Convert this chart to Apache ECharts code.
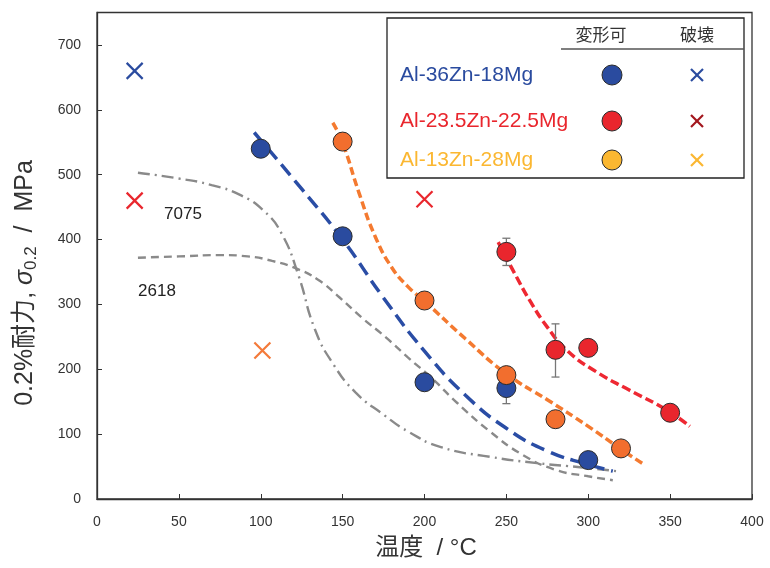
<!DOCTYPE html>
<html><head><meta charset="utf-8">
<script src="https://cdn.jsdelivr.net/npm/echarts@6/dist/echarts.min.js"></script>
<style>html,body{margin:0;padding:0;background:#fff}#c{width:770px;height:568px}</style>
</head><body><div id="c"></div>
<script>
// ---- data ----
const xTicks = [0, 50, 100, 150, 200, 250, 300, 350, 400];
const yTicks = [0, 100, 200, 300, 400, 500, 600, 700];
const legendNames = ['Al-36Zn-18Mg', 'Al-23.5Zn-22.5Mg', 'Al-13Zn-28Mg'];
const legendHeaders = ['変形可', '破壊'];
const xTitle = '温度  / °C';
const yTitle = '0.2%耐力, {s|σ}{sub|0.2}  /  MPa';
const blueOK = [[100, 540], [150, 405], [200, 180], [250, 171], [300, 60]];
const blueFail = [[23, 660]];
const redOK = [[250, 381], [280, 230], [300, 233], [350, 133]];
const redFail = [[23, 460], [200, 462]];
const orangeOK = [[150, 551], [200, 306], [250, 191], [280, 123], [320, 78]];
const orangeFail = [[101, 229]];
const errorBars = [[250, 147, 195], [250, 360, 402], [280, 188, 270]];
const blueFit = [[96, 565], [125, 478], [150, 400], [175, 310], [200, 228], [225, 160], [250, 109], [275, 74], [300, 53], [315, 43]];
const orangeFit = [[144, 580], [150, 549], [160, 472], [170, 404], [180, 357], [190, 327], [200, 305], [225, 247], [250, 193], [275, 153], [300, 112], [321, 75], [333, 55]];
const redFit = [[245, 396], [255, 348], [265, 303], [275, 265], [287, 229], [305, 196], [325, 168], [348, 137], [362, 112]];
const alloy7075 = [[25, 503], [50, 494], [70, 484], [88, 468], [102, 444], [113, 408], [123, 345], [133, 262], [144, 209], [158, 164], [175, 130], [190, 104], [210, 80], [240, 65], [270, 55], [295, 49], [317, 43]];
const alloy2618 = [[25, 372], [50, 374], [76, 376], [92, 374], [107, 367], [122, 355], [135, 338], [148, 311], [162, 279], [176, 250], [190, 218], [205, 185], [220, 148], [240, 104], [260, 68], [280, 45], [300, 35], [315, 29]];
const curveLabels = ['7075', '2618'];

// ---- styles ----
const FONT = "'Liberation Sans', Arial, 'Noto Sans CJK JP', sans-serif";
const BLUE = '#2A4B9F', RED = '#E9262D', ORANGE = '#F26E2E', YELLOW = '#FBB731', DARKRED = '#A3161D';
const GRAY = '#8A8A8A';
const XPATH = 'path://M0,0L10,10M10,0L0,10';

const chart = echarts.init(document.getElementById('c'), null, {renderer: 'canvas'});

function circles(data, color) {
  return {type: 'scatter', data, symbol: 'circle', symbolSize: 19, z: 5,
    itemStyle: {color, opacity: 1, borderColor: '#2b2b2b', borderWidth: 1}, emphasis: {disabled: true}};
}
function crosses(data, color) {
  return {type: 'scatter', data, symbol: XPATH, symbolSize: 16, z: 5,
    itemStyle: {color: 'rgba(0,0,0,0)', opacity: 1, borderColor: color, borderWidth: 2.2}, emphasis: {disabled: true}};
}
function fit(data, color, width, dash) {
  return {type: 'line', data, smooth: 0.5, showSymbol: false, symbol: 'none', z: 3,
    lineStyle: {color, width, type: dash}, emphasis: {disabled: true}};
}

// legend graphic
const legX = 387, legY = 18, legW = 357, legH = 160;
const rowY = [75, 121, 160];
const rowText = [BLUE, RED, YELLOW];
const rowCircle = [BLUE, RED, YELLOW];
const rowCross = [BLUE, DARKRED, YELLOW];
const graphics = [
  {type: 'rect', shape: {x: legX, y: legY, width: legW, height: legH}, style: {fill: '#fff', stroke: '#222', lineWidth: 1.3}, z: 10},
  {type: 'line', shape: {x1: 561, y1: 49, x2: legX + legW, y2: 49}, style: {stroke: '#555', lineWidth: 1.3}, z: 11},
  {type: 'text', x: 601, y: 35, style: {text: legendHeaders[0], font: "17px 'Noto Sans CJK JP'", fill: '#333', align: 'center', verticalAlign: 'middle'}, z: 11},
  {type: 'text', x: 697, y: 35, style: {text: legendHeaders[1], font: "17px 'Noto Sans CJK JP'", fill: '#333', align: 'center', verticalAlign: 'middle'}, z: 11},
  {type: 'text', x: 183, y: 214, style: {text: curveLabels[0], font: "17px 'Liberation Sans', Arial", fill: '#222', align: 'center', verticalAlign: 'middle'}, z: 11},
  {type: 'text', x: 157, y: 291, style: {text: curveLabels[1], font: "17px 'Liberation Sans', Arial", fill: '#222', align: 'center', verticalAlign: 'middle'}, z: 11},
  {type: 'text', x: 25, y: 283, rotation: Math.PI / 2, z: 11,
    style: {text: yTitle, fontFamily: FONT, fontSize: 25, fill: '#333', align: 'center', verticalAlign: 'middle', lineHeight: 30,
      rich: {s: {fontSize: 25, fontStyle: 'italic', fill: '#333', lineHeight: 30, fontFamily: FONT},
             sub: {fontSize: 17, fill: '#333', lineHeight: 18, verticalAlign: 'bottom', fontFamily: FONT}}}},
  {type: 'text', x: 426, y: 548, z: 11,
    style: {text: xTitle, fontFamily: FONT, fontSize: 24, fill: '#333', align: 'center', verticalAlign: 'middle'}}
];
legendNames.forEach((n, i) => {
  graphics.push({type: 'text', x: 400, y: rowY[i], style: {text: n, font: "21px 'Liberation Sans', Arial", fill: rowText[i], verticalAlign: 'middle'}, z: 11});
  graphics.push({type: 'circle', shape: {cx: 612, cy: rowY[i], r: 10}, style: {fill: rowCircle[i], stroke: '#2b2b2b', lineWidth: 1}, z: 11});
  graphics.push({type: 'polyline', shape: {points: [[691, rowY[i] - 6], [703, rowY[i] + 6]]}, style: {stroke: rowCross[i], lineWidth: 2.2}, z: 11});
  graphics.push({type: 'polyline', shape: {points: [[703, rowY[i] - 6], [691, rowY[i] + 6]]}, style: {stroke: rowCross[i], lineWidth: 2.2}, z: 11});
});

const option = {
  animation: false,
  backgroundColor: '#fff',
  textStyle: {fontFamily: FONT},
  grid: {left: 97, right: 18, top: 12.5, bottom: 69, show: true, borderColor: '#333', borderWidth: 1.3, containLabel: false},
  xAxis: {
    type: 'value', min: xTicks[0], max: xTicks[xTicks.length - 1], interval: 50,
    axisLine: {show: true, lineStyle: {color: '#333', width: 1.3}},
    axisTick: {show: true, inside: true, length: 5, lineStyle: {color: '#333'}},
    axisLabel: {fontSize: 14, color: '#333', margin: 16, fontFamily: FONT},
    splitLine: {show: false}
  },
  yAxis: {
    type: 'value', min: yTicks[0], max: 750, interval: 100,
    axisLine: {show: true, lineStyle: {color: '#333', width: 1.3}},
    axisTick: {show: true, inside: true, length: 5, lineStyle: {color: '#333'}},
    axisLabel: {fontSize: 14, color: '#333', margin: 16, fontFamily: FONT,
      formatter: v => (yTicks.indexOf(v) >= 0 ? String(v) : '')},
    splitLine: {show: false}
  },
  graphic: graphics,
  series: [
    fit(alloy7075, GRAY, 2.4, [12, 5, 2, 5]),
    fit(alloy2618, GRAY, 2.4, [8, 5]),
    fit(blueFit, '#2A4DA5', 3.5, [14, 7]),
    fit(orangeFit, '#F47A30', 3.5, [8, 4]),
    fit(redFit, '#EE2832', 3.5, [9, 4]),
    {type: 'custom', data: errorBars, z: 4,
      renderItem: (params, api) => {
        const lo = api.coord([api.value(0), api.value(1)]);
        const hi = api.coord([api.value(0), api.value(2)]);
        const st = {stroke: '#777', lineWidth: 1.3};
        return {type: 'group', children: [
          {type: 'line', shape: {x1: lo[0], y1: lo[1], x2: hi[0], y2: hi[1]}, style: st},
          {type: 'line', shape: {x1: lo[0] - 4, y1: lo[1], x2: lo[0] + 4, y2: lo[1]}, style: st},
          {type: 'line', shape: {x1: hi[0] - 4, y1: hi[1], x2: hi[0] + 4, y2: hi[1]}, style: st}
        ]};
      }},
    circles(blueOK, BLUE),
    circles(redOK, RED),
    circles(orangeOK, ORANGE),
    crosses(blueFail, BLUE),
    crosses(redFail, RED),
    crosses(orangeFail, '#F47A3A')
  ]
};
chart.setOption(option);
</script>
</body></html>
